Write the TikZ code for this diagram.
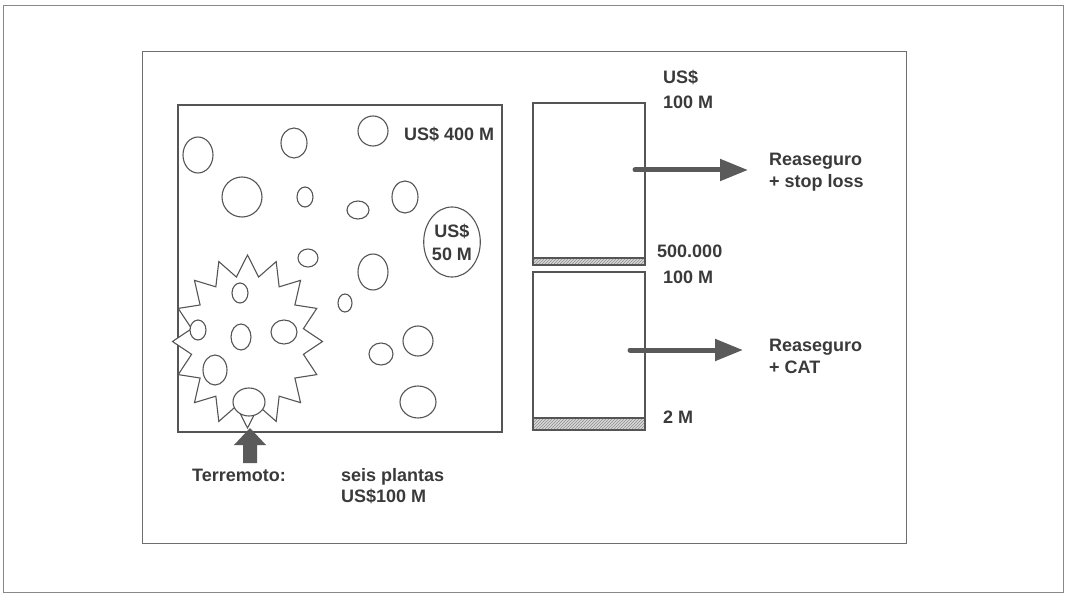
\documentclass[tikz,border=0pt]{standalone}
\usepackage{fontspec}
\setmainfont{Liberation Sans}
\usetikzlibrary{shapes.geometric,arrows.meta,patterns}
\definecolor{ink}{HTML}{555555}
\definecolor{txt}{HTML}{3A3A3A}
\definecolor{arr}{HTML}{5A5A5A}
\tikzset{
  frame/.style={draw=ink!85, line width=1pt},
  boxline/.style={draw=ink, line width=1.1pt},
  blob/.style={draw=ink, line width=1.1pt, fill=white},
  lbl/.style={anchor=base west, inner sep=0pt, text=txt, font=\fontsize{18}{23}\selectfont\bfseries},
  lbl2/.style={lbl, align=left},
  strip/.style={fill=gray!30, postaction={pattern=north east lines, pattern color=gray!90}},
  bigarrow/.style={draw=arr, line width=5pt, line cap=round, -{Triangle[length=28pt,width=21pt]}}
}
\begin{document}
\begin{tikzpicture}[x=1pt,y=-1pt]
\useasboundingbox (0,0) rectangle (1068,596);
% frames
\draw[frame, draw=ink!70] (3,6) rectangle (1063,592);
\draw[frame] (142,52) rectangle (906,543);
% left box
\draw[boxline] (178,105) rectangle (502,432);
% starburst
\begin{scope}[shift={(247.5,341.5)}]
\draw[blob] plot[samples at={0,1,...,31}, variable=\k]
  ({(1-0.24*mod(\k,2))*75*cos(90+11.25*\k)}, {(1-0.24*mod(\k,2))*86.5*sin(90+11.25*\k)}) -- cycle;
\end{scope}
% plants (circles)
\foreach \x/\y/\rx/\ry in {
 198/155/15/18, 294/143/13/15, 373/131/15/15, 242/197/20/20, 305/197/8/10,
 358/210/11/9, 405/197/13/16, 308/258/10/9, 373/272/15/18, 345/303/7/9,
 418/341/15/15, 381/354/12/11, 418/402/18/16,
 240/293/8/10, 198/330/8/10, 241/337/10/13, 284/332/13/12, 215/370/12/15, 249/402/16/14}
 \draw[blob] (\x,\y) ellipse [x radius=\rx, y radius=\ry];
\node[blob, ellipse, minimum width=48pt, minimum height=70pt, inner sep=0pt,
      align=center, text=txt, font=\fontsize{18}{23}\selectfont\bfseries] (big) at (452,242) {US\$\\50 M};
\node[lbl] (total) at (404,141) {US\$ 400 M};
% earthquake arrow
\fill[arr] (243,463) -- (243,445) -- (234,445) -- (250,428) -- (266,445) -- (257,445) -- (257,463) -- cycle;
\node[lbl] (terr) at (192,481) {Terremoto:};
\node[lbl] (seis) at (341,481) {seis plantas};
\node[lbl] (seis2) at (341,502) {US\$100 M};
% right layers
\draw[boxline] (533,103) rectangle (645,265);
\path[strip] (533,258) rectangle (645,265);
\draw[boxline] (533,258) rectangle (645,265);
\draw[boxline] (533,272) rectangle (645,430);
\path[strip] (533,418) rectangle (645,430);
\draw[boxline] (533,418) rectangle (645,430);
\node[lbl] (us) at (663,84) {US\$};
\node[lbl] (c100a) at (663,109) {100 M};
\node[lbl] (c500) at (657,258) {500.000};
\node[lbl] (c100b) at (663,283) {100 M};
\node[lbl] (c2) at (663,423) {2 M};
\node[lbl] (re1) at (769,166) {Reaseguro};
\node[lbl] (re1b) at (769,188) {+ stop loss};
\node[lbl] (re2) at (769,351) {Reaseguro};
\node[lbl] (re2b) at (769,373) {+ CAT};
\coordinate (a1s) at (635,170);
\coordinate (a1e) at (748,170);
\coordinate (a2s) at (630,350);
\coordinate (a2e) at (743,350);
\draw[bigarrow] (a1s) -- (a1e);
\draw[bigarrow] (a2s) -- (a2e);
\end{tikzpicture}
\end{document}
